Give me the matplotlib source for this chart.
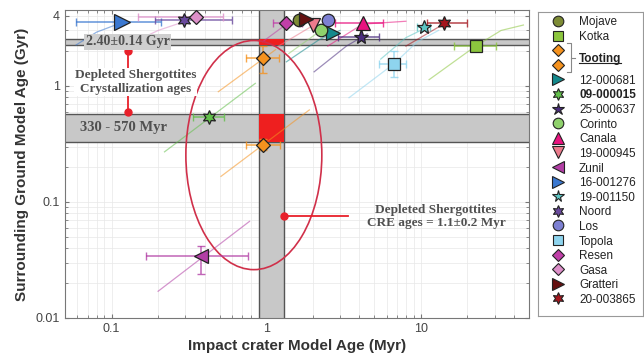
import matplotlib
matplotlib.use('Agg')
import matplotlib.pyplot as plt
from matplotlib.patches import Ellipse, Rectangle
import numpy as np

plt.rcParams['font.family'] = ['Liberation Sans', 'DejaVu Sans']

HEX = (6, 1, 0)   # six-pointed star

# craters, in legend order (Tooting has two points)
names = ['Mojave', 'Kotka', 'Tooting', 'Tooting', '12-000681', '09-000015',
         '25-000637', 'Corinto', 'Canala', '19-000945', 'Zunil', '16-001276',
         '19-001150', 'Noord', 'Los', 'Topola', 'Resen', 'Gasa', 'Gratteri',
         '20-003865']
markers = ['o', 's', 'D', 'D', '>', HEX, '*', 'o', '^', 'v', '<', '>',
           '*', HEX, 'o', 's', 'D', 'D', '>', HEX]
colors = ['#7d8b35', '#8cc63e', '#f5921e', '#f5921e', '#14898c', '#62bf4a',
          '#4b2d7f', '#8fd16c', '#e8137f', '#ec7b8c', '#b23ea5', '#3b78d0',
          '#5cc6c4', '#6a4a9e', '#7d80d2', '#8ed4ee', '#c03fa8', '#dd8fc9',
          '#651010', '#a5161e']
sizes = [9, 8.5, 7.5, 7.5, 10, 10, 11, 9, 10, 10, 10, 11, 10, 10, 9, 8.5,
         7.5, 7.5, 10, 10]

# crater model age (Myr) and surrounding ground model age (Gyr)
crater_myr = [1.63, 22.6, 0.956, 0.956, 2.71, 0.429, 4.1, 2.26, 4.22, 2.01,
              0.38, 0.116, 10.4, 0.296, 2.51, 6.7, 1.35, 0.353, 1.81, 14.1]
ground_gyr = [3.69, 2.2, 1.74, 0.312, 2.85, 0.542, 2.64, 3.03, 3.47, 3.34,
              0.034, 3.54, 3.21, 3.69, 3.69, 1.55, 3.47, 3.91, 3.76, 3.47]
nan = np.nan
crater_lo = [nan, 16.3, 0.74, 0.74, nan, 0.338, 2.9, nan, 2.8, nan,
             0.168, 0.059, 9.4, 0.19, nan, 5.35, 1.1, 0.149, nan, 10.9]
crater_hi = [nan, 30.5, 1.21, 1.23, nan, 0.536, 5.35, nan, 5.7, nan,
             0.765, 0.21, 11.5, 0.6, nan, 8.0, 1.7, 0.528, nan, 19.8]
ground_lo = [nan, nan, 1.3, 0.28, nan, nan, nan, nan, nan, nan,
             0.024, nan, nan, nan, nan, 1.19, nan, nan, nan, nan]
ground_hi = [nan, nan, 2.2, 0.35, nan, nan, nan, nan, nan, nan,
             0.042, nan, nan, nan, nan, 2.0, nan, nan, nan, nan]

# model age curves (crater Myr, ground Gyr) for each crater
curves = {
    'Zunil': ([0.2, 0.78], [0.017, 0.068]),
    '09-000015': ([0.22, 0.85], [0.27, 1.05]),
    'Tooting_low': ([0.51, 1.9], [0.166, 0.62]),
    'Tooting_up': ([0.49, 1.15], [0.89, 2.05]),
    '12-000681': ([1.35, 2.2, 3.0], [1.61, 2.5, 3.0]),
    '25-000637': ([2.04, 3.3, 4.5], [1.32, 2.2, 2.8]),
    'Topola': ([3.43, 6.7, 9.5, 13.0], [0.79, 1.55, 2.4, 3.0]),
    '19-001150': ([5.5, 8.0, 11.0], [1.7, 2.6, 3.2]),
    'Kotka': ([11.3, 22.6, 33.0, 46.0], [1.13, 2.2, 3.0, 3.34]),
    '16-001276': ([0.059, 0.08, 0.116], [2.25, 2.9, 3.5]),
    'Gasa': ([0.15, 0.2, 0.3], [2.5, 3.0, 3.6]),
    'Resen': ([0.95, 1.35], [2.4, 3.4]),
    'Corinto': ([1.4, 2.26], [1.9, 3.0]),
    '19-000945': ([1.2, 2.0], [2.2, 3.3]),
    'Canala': ([2.5, 4.2, 8.0], [2.2, 3.4, 3.6]),
    '20-003865': ([8.0, 14.0], [2.2, 3.4]),
}

# depleted shergottite ages
cryst_old = (2.26, 2.54)    # Gyr
cryst_young = (0.33, 0.57)  # Gyr
cre_age = (0.9, 1.3)        # Myr

fig = plt.figure(figsize=(6.44, 3.57), dpi=100)
ax = fig.add_axes([65 / 644, 1 - 318 / 357, 464 / 644, 308 / 357])
ax.set_xscale('log')
ax.set_yscale('log')
ax.set_xlim(0.05, 50)
ax.set_ylim(0.01, 4.5)

ax.grid(True, which='both', color='#e8e8e8', lw=0.5, zorder=0)
ax.set_axisbelow(True)

band = '#c8c8c8'
edge = '#555555'
for lo, hi in (cryst_old, cryst_young):
    ax.axhspan(lo, hi, color=band, zorder=1, lw=0)
    ax.axhline(lo, color=edge, lw=1, zorder=1.5)
    ax.axhline(hi, color=edge, lw=1, zorder=1.5)
    ax.add_patch(Rectangle((cre_age[0], lo), cre_age[1] - cre_age[0], hi - lo,
                           color='#ee1f1f', lw=0, zorder=1.8))
ax.axvspan(cre_age[0], cre_age[1], color=band, zorder=1, lw=0)
ax.axvline(cre_age[0], color=edge, lw=1, zorder=1.5)
ax.axvline(cre_age[1], color=edge, lw=1, zorder=1.5)

for key, (cx, cy) in curves.items():
    c = colors[names.index(key.split('_')[0])]
    ax.plot(cx, cy, color=c, lw=0.9, alpha=0.55, zorder=2)

ax.add_patch(Ellipse((0.407, 0.529), 0.293, 0.744, transform=ax.transAxes,
                     fill=False, ec='#d0304a', lw=1.2, zorder=3))

for i in range(len(names)):
    x, y = crater_myr[i], ground_gyr[i]
    xerr = None
    yerr = None
    if not np.isnan(crater_lo[i]):
        xerr = [[x - crater_lo[i]], [crater_hi[i] - x]]
    if not np.isnan(ground_lo[i]):
        yerr = [[y - ground_lo[i]], [ground_hi[i] - y]]
    if xerr is not None or yerr is not None:
        ax.errorbar([x], [y], xerr=xerr, yerr=yerr, fmt='none',
                    ecolor=colors[i], elinewidth=1.1, capsize=3, alpha=0.8,
                    zorder=4)
    ax.plot(x, y, marker=markers[i], ms=sizes[i], mfc=colors[i], mec='#222222',
            mew=0.9, ls='none', zorder=5)

red = '#e8202a'
ax.plot([0.127, 0.127], [0.6, 2.0], color=red, lw=1.3, marker='o', ms=5,
        zorder=3)
ax.plot([1.3, 3.4], [0.075, 0.075], color=red, lw=1.3, zorder=3)
ax.plot([1.3], [0.075], color=red, marker='o', ms=5, zorder=3)

serif = dict(family='Liberation Serif', fontweight='bold', color='#505050',
             ha='center', va='center', zorder=6)
ax.text(0.127, 2.4, '2.40\u00b10.14 Gyr', fontsize=10,
        bbox=dict(fc='#cfcfcf', ec='none', pad=1), **serif)
ax.text(0.143, 1.08, 'Depleted Shergottites\nCrystallization ages',
        fontsize=9.5, linespacing=1.2,
        bbox=dict(fc='white', ec='none', pad=0.5), **serif)
ax.text(0.12, 0.436, '330 - 570 Myr', fontsize=10.5, **serif)
ax.text(12.5, 0.075, 'Depleted Shergottites\nCRE ages = 1.1\u00b10.2 Myr',
        fontsize=9.5, linespacing=1.2, **serif)

ax.set_xticks([0.1, 1, 10])
ax.set_xticklabels(['0.1', '1', '10'])
ax.set_yticks([0.01, 0.1, 1, 4])
ax.set_yticklabels(['0.01', '0.1', '1', '4'])
ax.tick_params(which='both', direction='in', top=True, right=True,
               colors='#777777', labelcolor='#444444', labelsize=9)
ax.tick_params(which='major', length=3)
ax.tick_params(which='minor', length=2)
for s in ax.spines.values():
    s.set_color('#777777')
ax.set_xlabel('Impact crater Model Age (Myr)', fontsize=11, fontweight='bold',
              color='#333333', labelpad=3)
ax.set_ylabel('Surrounding Ground Model Age (Gyr)', fontsize=11,
              fontweight='bold', color='#333333', labelpad=5)

# legend panel
lax = fig.add_axes([538 / 644, 1 - 316 / 357, 105 / 644, 304 / 357])
lax.set_xlim(538, 643)
lax.set_ylim(316, 12)
lax.set_xticks([])
lax.set_yticks([])
for s in lax.spines.values():
    s.set_color('#999999')
    s.set_linewidth(0.8)

row0, step = 21, 14.6
for i in range(len(names)):
    ry = row0 + step * i
    lax.plot(558, ry, marker=markers[i], ms=sizes[i] * 0.85, mfc=colors[i],
             mec='#222222', mew=0.8, ls='none')
    if names[i] == 'Tooting':
        continue
    weight = 'bold' if names[i] == '09-000015' else 'normal'
    lax.text(579, ry, names[i], fontsize=8.5, va='center_baseline', ha='left',
             color='#222222', fontweight=weight)

ty = row0 + step * 2.5
by0, by1 = row0 + step * 2 - 7, row0 + step * 3 + 7
lax.plot([567, 571, 571, 567], [by0, by0, by1, by1], color='#888888', lw=0.8)
lax.plot([571, 575], [ty, ty], color='#888888', lw=0.8)
tt = lax.text(579, ty, 'Tooting', fontsize=8.5, va='center_baseline',
              ha='left', color='#222222', fontweight='bold')
fig.canvas.draw()
bb = tt.get_window_extent().transformed(lax.transData.inverted())
lax.plot([bb.x0, bb.x1], [ty + 5, ty + 5], color='#222222', lw=0.8)

fig.savefig('out.png', dpi=100)
